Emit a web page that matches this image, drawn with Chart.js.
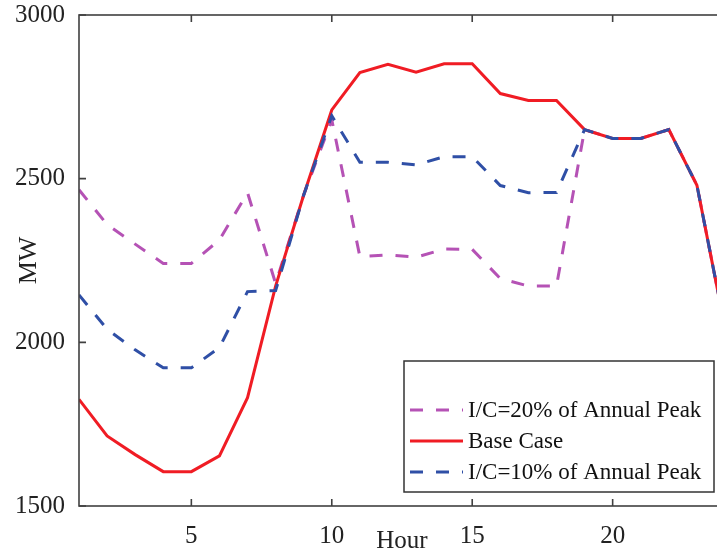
<!DOCTYPE html>
<html>
<head>
<meta charset="utf-8">
<script src="https://cdn.jsdelivr.net/npm/chart.js@4.4.0/dist/chart.umd.min.js"></script>
<style>
  html, body { margin: 0; padding: 0; background: #fff; overflow: hidden; }
  canvas { display: block; }
</style>
</head>
<body>
<canvas id="load" width="730" height="556"></canvas>
<script>
const hours = [1, 2, 3, 4, 5, 6, 7, 8, 9, 10, 11, 12, 13, 14, 15, 16, 17, 18, 19, 20, 21, 22, 23, 24];
const baseCase = [1826, 1714, 1657, 1605, 1605, 1653, 1831, 2172, 2450, 2710, 2824, 2849, 2825, 2851, 2851, 2760, 2739, 2739, 2650, 2623, 2623, 2650, 2480, 2045];
const ic10 = [2145, 2040, 1977, 1922, 1922, 1984, 2155, 2158, 2450, 2692, 2550, 2550, 2542, 2567, 2567, 2479, 2457, 2458, 2650, 2623, 2623, 2650, 2480, 2045];
const ic20 = [2466, 2360, 2300, 2241, 2241, 2313, 2457, 2180, 2450, 2680, 2262, 2267, 2260, 2285, 2284, 2195, 2172, 2172, 2650, 2623, 2623, 2650, 2480, 2045];
const xTicks = [5, 10, 15, 20];
const yTicks = [1500, 2000, 2500, 3000];
const seriesNames = ['I/C=20% of Annual Peak', 'Base Case', 'I/C=10% of Annual Peak'];

const serif = 'Liberation Serif, Times New Roman, serif';
const ink = '#222';

function points(values) {
  return values.map((v, i) => ({ x: hours[i], y: v }));
}

// axis box with inward tick marks, like the original plot
const frame = {
  id: 'frame',
  afterDraw(chart) {
    const { ctx, chartArea: a, scales: { x, y } } = chart;
    ctx.save();
    ctx.strokeStyle = '#404040';
    ctx.lineWidth = 1.6;
    ctx.strokeRect(a.left, a.top, a.right - a.left, a.bottom - a.top);
    ctx.beginPath();
    x.ticks.forEach((t) => {
      const px = x.getPixelForValue(t.value);
      ctx.moveTo(px, a.bottom); ctx.lineTo(px, a.bottom - 7);
      ctx.moveTo(px, a.top); ctx.lineTo(px, a.top + 7);
    });
    y.ticks.forEach((t) => {
      const py = y.getPixelForValue(t.value);
      ctx.moveTo(a.left, py); ctx.lineTo(a.left + 7, py);
    });
    ctx.stroke();
    ctx.restore();
  },
};

// boxed legend in the lower right corner of the plot
const boxLegend = {
  id: 'boxLegend',
  afterDraw(chart) {
    const { ctx, chartArea: a } = chart;
    const right = a.right - 11;
    const bottom = a.bottom - 14;
    const left = right - 310;
    const top = bottom - 131;
    ctx.save();
    ctx.fillStyle = '#fff';
    ctx.fillRect(left, top, right - left, bottom - top);
    ctx.strokeStyle = '#333';
    ctx.lineWidth = 1.5;
    ctx.strokeRect(left, top, right - left, bottom - top);
    ctx.font = '23px ' + serif;
    ctx.textBaseline = 'middle';
    ctx.fillStyle = '#111';
    chart.data.datasets.forEach((ds, i) => {
      const ly = top + 49 + i * 31;
      ctx.beginPath();
      ctx.strokeStyle = ds.borderColor;
      ctx.lineWidth = 3;
      ctx.setLineDash(ds.borderDash || []);
      ctx.moveTo(left + 6, ly);
      ctx.lineTo(left + 59, ly);
      ctx.stroke();
      ctx.setLineDash([]);
      ctx.fillText(ds.label, left + 64, ly + 1);
    });
    ctx.restore();
  },
};

new Chart(document.getElementById('load'), {
  type: 'line',
  data: {
    datasets: [
      { label: seriesNames[0], data: points(ic20), borderColor: '#b552b5', borderWidth: 3, borderDash: [13, 13], order: 2 },
      { label: seriesNames[1], data: points(baseCase), borderColor: '#f01c24', borderWidth: 3, order: 1 },
      { label: seriesNames[2], data: points(ic10), borderColor: '#2f4fa6', borderWidth: 3, borderDash: [13, 13], order: 0 },
    ],
  },
  options: {
    responsive: false,
    animation: false,
    layout: { padding: { top: 0, right: 5, left: 0, bottom: 0 } },
    elements: { point: { radius: 0 }, line: { tension: 0, fill: false } },
    plugins: { legend: { display: false }, tooltip: { enabled: false } },
    scales: {
      x: {
        type: 'linear',
        min: 1,
        max: 24,
        afterBuildTicks: (scale) => { scale.ticks = xTicks.map((v) => ({ value: v })); },
        afterFit: (scale) => { scale.height = 50; },
        grid: { display: false, drawTicks: false },
        border: { display: false },
        ticks: { padding: 15, color: ink, font: { family: serif, size: 25 }, callback: (v) => String(v) },
        title: { display: true, text: 'Hour', color: ink, font: { family: serif, size: 25 }, padding: { top: 0, bottom: 0 } },
      },
      y: {
        min: 1500,
        max: 3000,
        afterBuildTicks: (scale) => { scale.ticks = yTicks.map((v) => ({ value: v })); },
        afterFit: (scale) => { scale.width = 79; scale.paddingTop = 15; scale.paddingBottom = 0; },
        grid: { display: false, drawTicks: false },
        border: { display: false },
        ticks: { padding: 14, color: ink, font: { family: serif, size: 25 }, callback: (v) => String(v) },
        title: { display: true, text: 'MW', color: ink, font: { family: serif, size: 26 }, padding: { top: 14, bottom: 0 } },
      },
    },
  },
  plugins: [frame, boxLegend],
});
</script>
</body>
</html>
